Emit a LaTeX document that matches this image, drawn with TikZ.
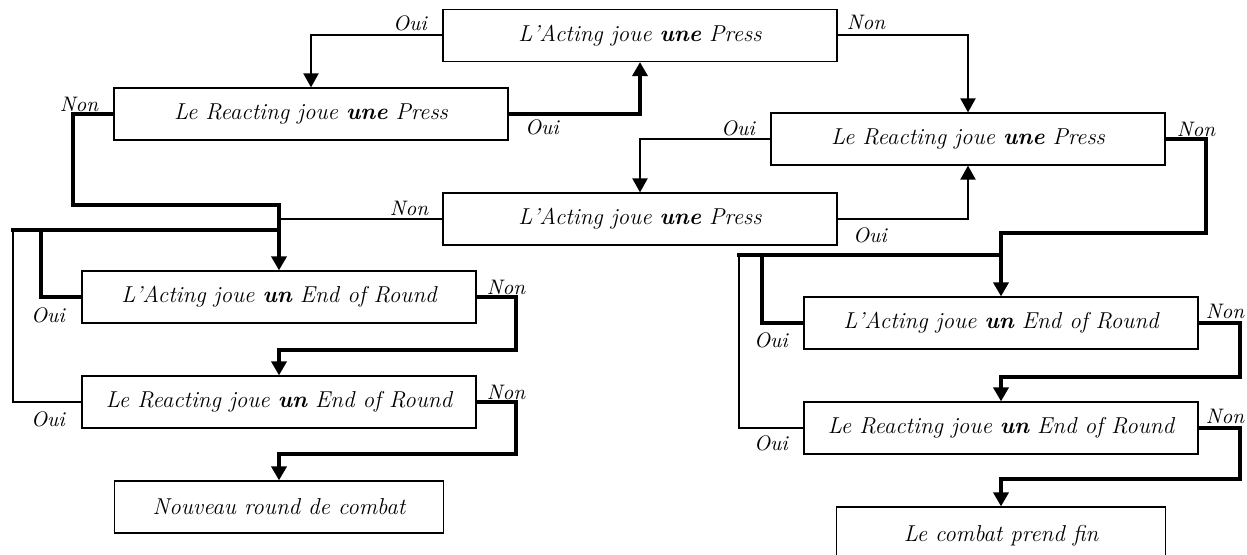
\documentclass[tikz,border=0pt]{standalone}
\usepackage{fontspec}
\usetikzlibrary{arrows.meta}
\begin{document}
\begin{tikzpicture}[x=0.5pt,y=-0.5pt,
  box/.style={draw,line width=0.6pt,minimum width=197pt,minimum height=26pt,
    inner sep=0pt,font=\itshape\fontsize{11.5}{13}\selectfont},
  endbox/.style={box,minimum width=164.5pt},
  lbl/.style={inner sep=0pt,font=\itshape\fontsize{10.5}{12}\selectfont},
  heavy/.style={line width=2pt},
  light/.style={line width=1pt},
  arrowhd/.style={-{Triangle[width=7.5pt,length=7pt]}},
]
\clip (0,0) rectangle (1247,555);

% --- boxes: left column
\node[box] (A1) at (640,35.5) {L'Acting joue \textbf{une} Press};
\node[box] (R1) at (311,114) {Le Reacting joue \textbf{une} Press};
\node[box] (R2) at (968,139) {Le Reacting joue \textbf{une} Press};
\node[box] (A2) at (640,219) {L'Acting joue \textbf{une} Press};
\node[box] (E1) at (279,297) {L'Acting joue \textbf{un} End of Round};
\node[box] (E2) at (279,402) {Le Reacting joue \textbf{un} End of Round};
\node[endbox] (N) at (279,507) {Nouveau round de combat};
% --- boxes: right column (the last one runs past the lower edge)
\node[box] (RE1) at (1001,323) {L'Acting joue \textbf{un} End of Round};
\node[box] (RE2) at (1001,428) {Le Reacting joue \textbf{un} End of Round};
\node[endbox,minimum height=40pt,text depth=14pt] (F) at (1001,547) {Le combat prend fin};

% --- bend points
\coordinate (b1) at (73,205);
\coordinate (jl) at (279,230);
\coordinate (cl1) at (41,230);
\coordinate (cl2) at (13,230);
\coordinate (b2) at (516,350);
\coordinate (b3) at (516,454);
\coordinate (b4) at (1206,233);
\coordinate (jr) at (1001,255);
\coordinate (cr1) at (762,255);
\coordinate (cr2) at (739,255);
\coordinate (b5) at (1240,377);
\coordinate (b6) at (1240,479);

% --- press exchanges
\draw[light,arrowhd] (A1.west) -| (R1.north);
\draw[heavy,arrowhd] (R1.east) -| (A1.south);
\draw[light,arrowhd] (A1.east) -| (R2.north);
\draw[light,arrowhd] (R2.west) -| (A2.north);
\draw[light,arrowhd] (A2.east) -| (R2.south);

% --- left branch
\draw[heavy,arrowhd] (R1.west) -| (b1) -| (E1.north);
\draw[light] (A2.west) -- (A2.west -| E1.north);
\draw[heavy] (E1.west) -| (cl1) -- (jl);
\draw[light] (E2.west) -| (cl2);
\draw[heavy,line cap=rect] (cl2) -- (cl1);
\draw[heavy,arrowhd] (E1.east) -| (b2) -| (E2.north);
\draw[heavy,arrowhd] (E2.east) -| (b3) -| (N.north);

% --- right branch
\draw[heavy,arrowhd] (R2.east) -| (b4) -| (RE1.north);
\draw[heavy] (RE1.west) -| (cr1) -- (jr);
\draw[light] (RE2.west) -| (cr2);
\draw[heavy,line cap=rect] (cr2) -- (cr1);
\draw[heavy,arrowhd] (RE1.east) -| (b5) -| (RE2.north);
\draw[heavy,arrowhd] (RE2.east) -| (b6) -| (F.north);

% --- answer labels
\node[lbl] (l1) at (410,23) {Oui};
\node[lbl] (l2) at (79,104) {Non};
\node[lbl] (l3) at (542,127) {Oui};
\node[lbl] (l4) at (866,22) {Non};
\node[lbl] (l5) at (738,128) {Oui};
\node[lbl] (l6) at (1196,129) {Non};
\node[lbl] (l7) at (870,235) {Oui};
\node[lbl] (l8) at (409,208) {Non};
\node[lbl] (l9) at (48,315) {Oui};
\node[lbl] (l10) at (48,419) {Oui};
\node[lbl] (l11) at (506,287) {Non};
\node[lbl] (l12) at (506,392) {Non};
\node[lbl] (l13) at (771,340) {Oui};
\node[lbl] (l14) at (771,443) {Oui};
\node[lbl] (l15) at (1225,311) {Non};
\node[lbl] (l16) at (1225,416) {Non};
\end{tikzpicture}
\end{document}
